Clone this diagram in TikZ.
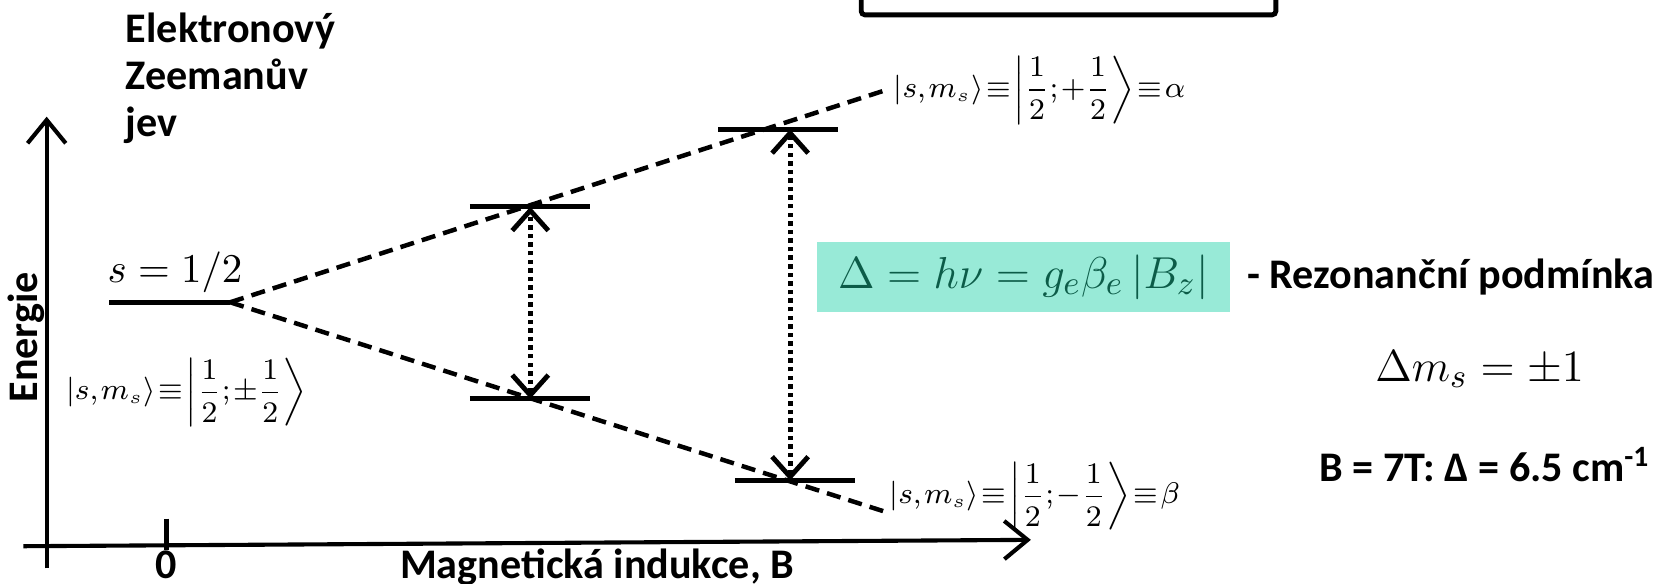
\documentclass[tikz,border=0pt]{standalone}
\usepackage{amsmath}
\usepackage{fontspec}
\setmainfont{Carlito}
\usetikzlibrary{positioning,arrows.meta}
\definecolor{resgreen}{RGB}{152,234,215}
\definecolor{resdark}{RGB}{12,92,72}
\newcommand{\ketspacing}{\thickmuskip=1.5mu\relax\medmuskip=0mu\relax\thinmuskip=1.5mu\relax}

\begin{document}
\begin{tikzpicture}[x=0.01cm, y=-0.01cm,
    lbl/.style={font=\fontsize{11.3}{12.7}\selectfont\bfseries, inner sep=0pt},
    ket/.style={font={\fontsize{7.6}{9}\selectfont\ketspacing}, inner sep=0pt},
    level/.style={line width=1.3pt},
    split/.style={line width=1.2pt, dash pattern=on 3.8pt off 2.2pt},
    axis/.style={-{Straight Barb[length=2.2mm,width=3.6mm]}, line width=1.1pt},
    trans/.style={{Straight Barb[length=1.9mm,width=3.4mm]}-{Straight Barb[length=1.9mm,width=3.4mm]},
                  line width=1.3pt, dash pattern=on 1.2pt off 1.1pt},
    res/.style={fill=resgreen, text=resdark, minimum width=3.89cm, minimum height=0.66cm,
                inner sep=0pt, font=\fontsize{12.5}{15}\selectfont}]
    \useasboundingbox (0,0) rectangle (1568,550);
    \draw[line width=1.3pt, rounded corners=1pt] (812,-40) rectangle (1203,14);
    \node[lbl, align=left, anchor=north west] (title) at (118,11) {Elektronový\\Zeemanův\\jev};
    \coordinate (o) at (44,536); \coordinate (ytop) at (44,110);
    \coordinate (xl) at (22,515); \coordinate (xr) at (972,509);
    \coordinate (t0) at (157,489); \coordinate (t1) at (157,519);
    \draw[axis] (o) -- (ytop);
    \draw[axis] (xl) -- (xr);
    \draw[line width=1.1pt] (t0) -- (t1);
    \node[lbl, anchor=base] (zero) at (157,545) {0};
    \node[lbl, anchor=base] (xlab) at (563,545) {Magnetická indukce, B};
    \node[lbl, rotate=90] (ylab) at (25,318) {Energie};
    \coordinate (s0l) at (103,285); \coordinate (s0) at (217,285);
    \coordinate (a1l) at (443,195); \coordinate (a1r) at (556,195); \coordinate (a1) at (500,195);
    \coordinate (b1l) at (443,376); \coordinate (b1r) at (556,376); \coordinate (b1) at (500,376);
    \coordinate (a2l) at (677,122); \coordinate (a2r) at (790,122); \coordinate (a2) at (745,122);
    \coordinate (b2l) at (693,453); \coordinate (b2r) at (806,453); \coordinate (b2) at (745,453);
    \coordinate (aend) at (835,85); \coordinate (bend) at (833,482);
    \draw[level] (s0l) -- (s0);
    \draw[level] (a1l) -- (a1r); \draw[level] (b1l) -- (b1r);
    \draw[level] (a2l) -- (a2r); \draw[level] (b2l) -- (b2r);
    \draw[split] (s0) -- (aend); \draw[split] (s0) -- (bend);
    \draw[trans] (b1) -- (a1); \draw[trans] (b2) -- (a2);
    \node[font=\fontsize{11}{13}\selectfont] (spin) at (165,257) {$s=1/2$};
    \node[ket] (k0) at (176,370) {$\left|s,m_s\right\rangle\equiv\left|\dfrac{1}{2};\pm\dfrac{1}{2}\right\rangle$};
    \node[ket, anchor=west] (ka) at (842,85) {$\left|s,m_s\right\rangle\equiv\left|\dfrac{1}{2};+\dfrac{1}{2}\right\rangle\equiv\alpha$};
    \node[ket, anchor=west] (kb) at (838,468) {$\left|s,m_s\right\rangle\equiv\left|\dfrac{1}{2};-\dfrac{1}{2}\right\rangle\equiv\beta$};
    \node[res] (res) at (965,261) {$\Delta=h\nu=g_e\beta_e\left|B_z\right|$};
    \node[lbl, right=0.15cm of res] (cond) {- Rezonanční podmínka};
    \node[font=\fontsize{13}{15}\selectfont] (dm) at (1395,348) {$\Delta m_s=\pm1$};
    \node[lbl] (bfield) at (1400,438) {B = 7T: Δ = 6.5 cm\textsuperscript{-1}};
\end{tikzpicture}
\end{document}
